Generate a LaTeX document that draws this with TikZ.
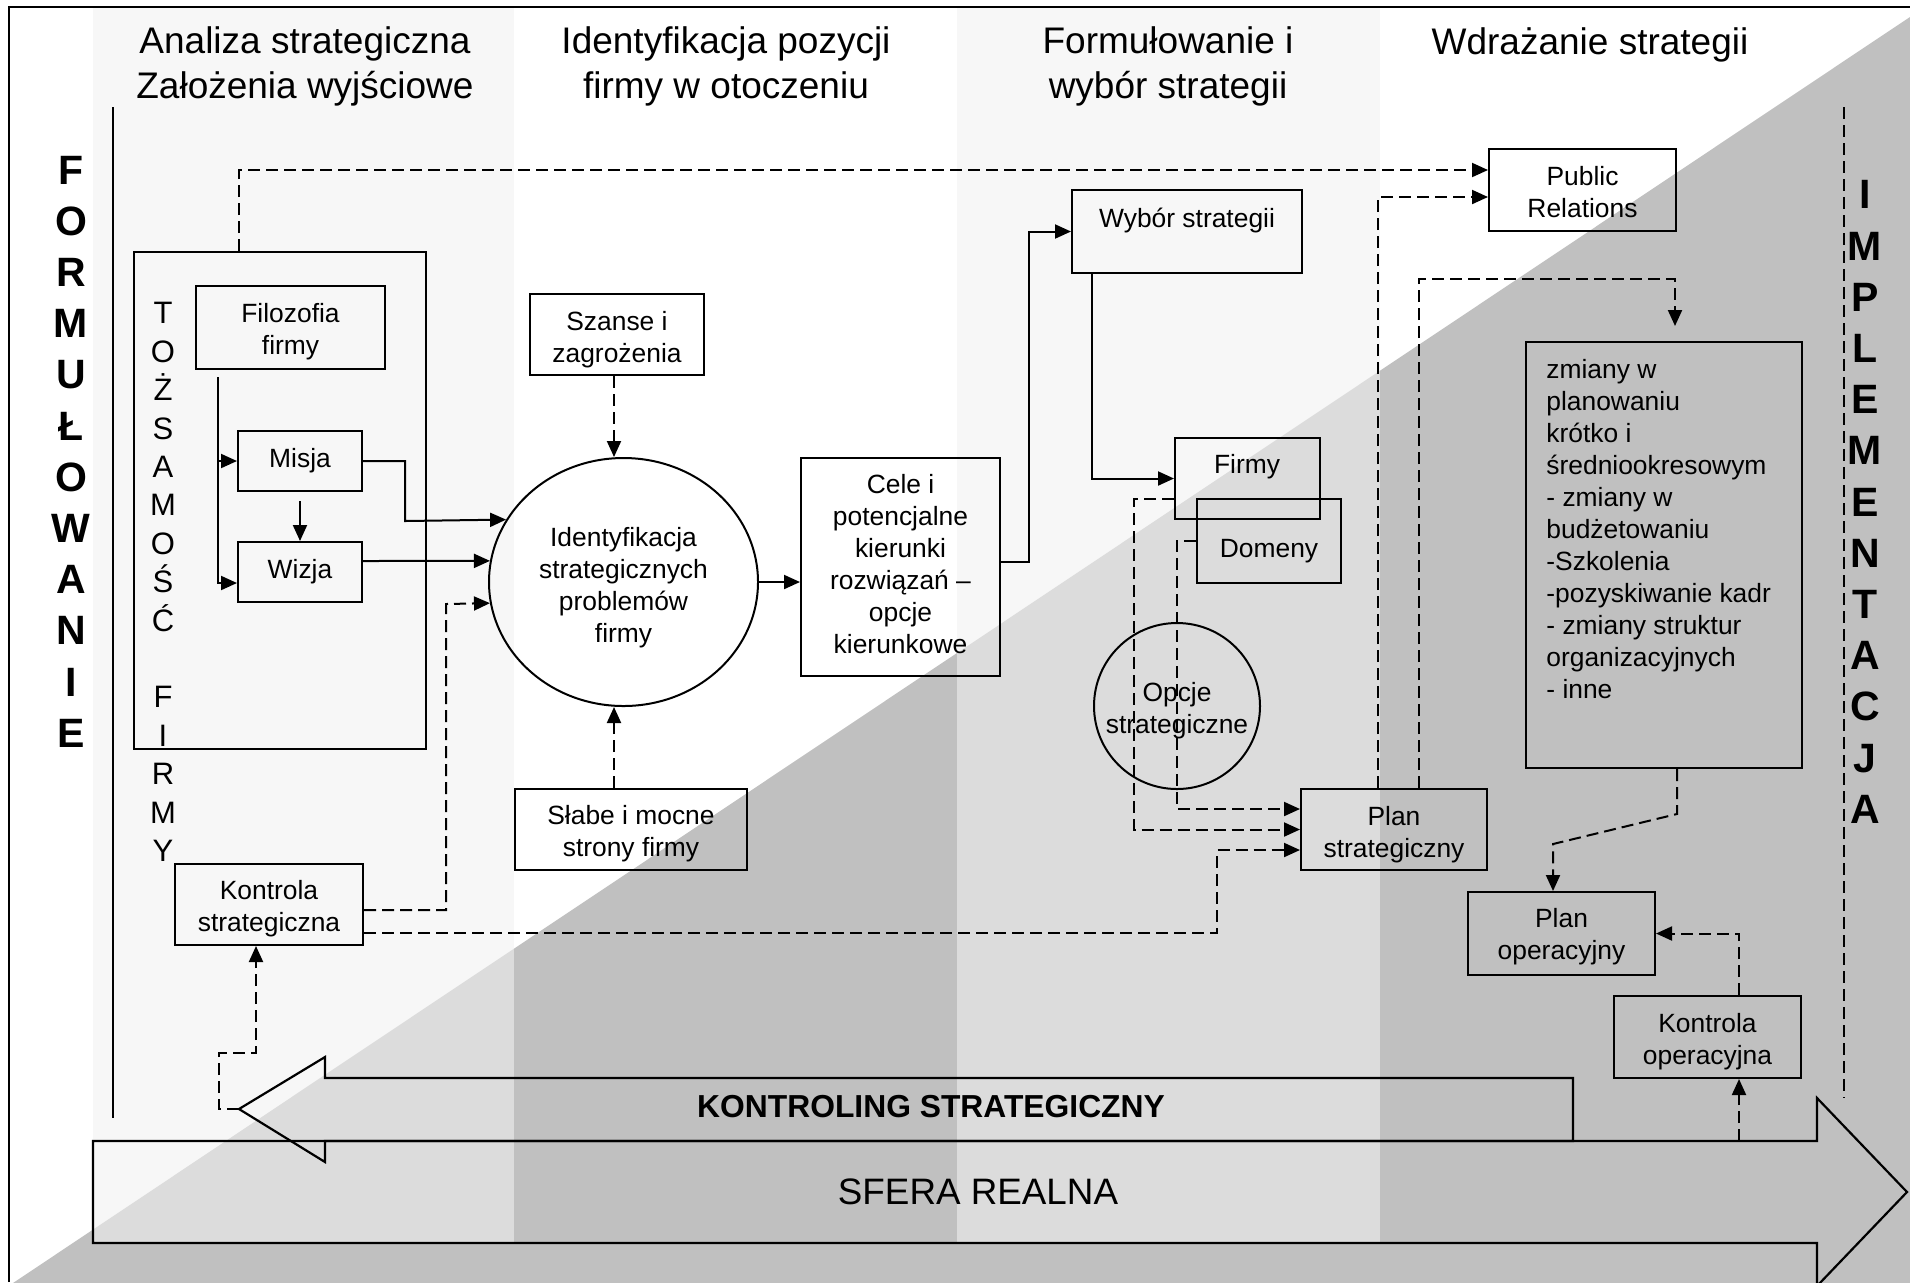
\documentclass[tikz,border=0pt]{standalone}
\usepackage{fontspec}
\setmainfont{Liberation Sans}
\usetikzlibrary{arrows.meta,shapes.geometric}

\definecolor{bandlight}{HTML}{F7F7F7}
\definecolor{bandmid}{HTML}{DCDCDC}
\definecolor{banddark}{HTML}{C0C0C0}

\newcommand\txtbox{\fontsize{13.2pt}{16pt}\selectfont}
\newcommand\txthead{\fontsize{18.5pt}{22.5pt}\selectfont}
\newcommand\txtside{\fontsize{20.5pt}{25.6pt}\selectfont\bfseries}
\newcommand\txtident{\fontsize{15.5pt}{19.2pt}\selectfont}

% rectangular box given by its corners (in px) and its caption:
% [vertical text offset], name, x1, y1, x2, y2, text
\newcommand\rectnode[7][0]{%
  \node[box, minimum width={(#5-#3)*0.5pt}, minimum height={(#6-#4)*0.5pt}]
    (#2) at ({(#3+#5)/2},{(#4+#6)/2}) {};
  \node[txt] (#2-t) at ({(#3+#5)/2},{(#4+#6)/2+#1}) {#7};}

\tikzset{
  box/.style={draw, line width=1pt, inner sep=0pt},
  txt/.style={inner sep=0pt, align=center, font=\txtbox},
  conn/.style={line width=1pt},
  arr/.style={conn, -{Triangle[length=8pt,width=7pt]}},
  dsh/.style={conn, dash pattern=on 6pt off 3pt},
  dsharr/.style={dsh, -{Triangle[length=8pt,width=7pt]}},
  bigarrow/.style={line width=1.1pt, line join=miter},
}

\begin{document}
\begin{tikzpicture}[x=0.5pt,y=-0.5pt]
\useasboundingbox (0,0) rectangle (1910,1282);

% ---------- background: white sheet, grey lower-right half, column bands
\fill[white] (0,0) rectangle (1910,1282);
\fill[banddark] (13,1283) -- (1910,17) -- (1910,1283) -- cycle;
\fill[bandlight] (93,7) rectangle (514,1243);
\fill[bandlight] (957,7) rectangle (1380,1243);
\begin{scope}
  \clip (13,1283) -- (1910,17) -- (1910,1283) -- cycle;
  \fill[bandmid] (93,7) rectangle (514,1243);
  \fill[bandmid] (957,7) rectangle (1380,1243);
\end{scope}

% frame
\draw[line width=1.2pt] (9,1282) -- (9,7) -- (1910,7);

% phase separators
\draw[conn] (113,107) -- (113,1118);
\draw[dsh] (1843.5,107) -- (1843.5,1098);

% ---------- column headings
\node[txt, font=\txthead] (hA) at (305,66.5) {Analiza strategiczna\\Założenia wyjściowe};
\node[txt, font=\txthead] (hB) at (726,66.5) {Identyfikacja pozycji\\firmy w otoczeniu};
\node[txt, font=\txthead] (hC) at (1168,66.5) {Formułowanie i\\wybór strategii};
\node[txt, font=\txthead] (hD) at (1590,44.5) {Wdrażanie strategii};

% ---------- side captions
\node[txt, font=\txtside] (formul) at (71,451.5)
  {F\\O\\R\\M\\U\\Ł\\O\\W\\A\\N\\I\\E};
\node[txt, font=\txtside] (implem) at (1865,502)
  {I\\M\\P\\L\\E\\M\\E\\N\\T\\A\\C\\J\\A};

% ---------- bottom band arrows
\draw[bigarrow] (93,1141) -- (1817,1141) -- (1817,1098) -- (1907,1192)
  -- (1817,1286) -- (1817,1243) -- (93,1243) -- cycle;
\draw[bigarrow] (1573,1078) -- (325,1078) -- (325,1057) -- (239,1109)
  -- (325,1162) -- (325,1141) -- (1573,1141) -- cycle;
\coordinate (ktip) at (239,1109);
\coordinate (kopfoot) at (1739,1141);
\node[txt, font=\fontsize{15.9pt}{19pt}\selectfont\bfseries] (ktxt) at (931,1107)
  {KONTROLING STRATEGICZNY};
\node[txt, font=\fontsize{18.4pt}{22pt}\selectfont] (stxt) at (978,1192)
  {SFERA REALNA};

% ---------- identity of the firm
\rectnode{ident}{134}{252}{426}{749}{}
\node[txt, font=\txtident] (identT) at (163,582)
  {T\\O\\Ż\\S\\A\\M\\O\\Ś\\Ć\\~\\F\\I\\R\\M\\Y};
\rectnode[4]{filo}{196}{286}{385}{369}{Filozofia\\firmy}
\rectnode{misja}{238}{431}{362}{491}{Misja}
\rectnode{wizja}{238}{542}{362}{602}{Wizja}
\rectnode[4]{kstrat}{175}{864}{363}{945}{Kontrola\\strategiczna}

% ---------- position of the firm
\node[draw, ellipse, line width=1pt, inner sep=0pt, minimum width=134.5pt,
  minimum height=124pt] (idc) at (623.5,582) {};
\node[txt] (idc-t) at (623.5,587.5)
  {Identyfikacja\\strategicznych\\problemów\\firmy};
\rectnode[5]{szanse}{530}{294}{704}{375}{Szanse i\\zagrożenia}
\rectnode[4]{slabe}{515}{789}{747}{870}{Słabe i mocne\\strony firmy}
\rectnode[-2.5]{cele}{801}{458}{1000}{676}{Cele i\\potencjalne\\kierunki\\rozwiązań –\\opcje\\kierunkowe}

% ---------- formulation and choice
\rectnode{wybor}{1072}{190}{1302}{273}{}
\node[txt] (wyborT) at (1187,220.5) {Wybór strategii};
\rectnode{firmy}{1175}{438}{1320}{519}{}
\node[txt] (firmyT) at (1247,466.5) {Firmy};
\rectnode{domeny}{1197}{499}{1341}{583}{}
\node[txt] (domenyT) at (1269,551.5) {Domeny};
\node[draw, circle, line width=1pt, inner sep=0pt, minimum size=83pt]
  (opcje) at (1177,706) {};
\node[txt] (opcje-t) at (1177,711) {Opcje\\strategiczne};
\rectnode[5]{pstrat}{1301}{789}{1487}{870}{Plan\\strategiczny}

% ---------- implementation
\rectnode[2]{pr}{1489}{149}{1676}{231}{Public\\Relations}
\rectnode{zmiany}{1526}{342}{1802}{768}{}
\node[txt, align=left, anchor=west] (zmianyT) at (1546,529.5)
  {zmiany w\\planowaniu\\krótko i\\średniookresowym\\- zmiany w\\budżetowaniu\\-Szkolenia\\-pozyskiwanie kadr\\- zmiany struktur\\organizacyjnych\\- inne};
\rectnode[3.5]{pop}{1468}{892}{1655}{975}{Plan\\operacyjny}
\rectnode[5]{kop}{1614}{996}{1801}{1078}{Kontrola\\operacyjna}

% ---------- solid connectors
\coordinate (fsplit) at (218,377);
\draw[arr] (fsplit) |- ([yshift=-5.5pt]wizja.west);
\draw[arr] (fsplit |- misja.west) -- (misja.west);
\draw[arr] ([yshift=-4.5pt]misja.south) -- (wizja.north);
\draw[arr] (misja.east) -| (405,521) -- (idc.152.5);
\draw[arr] ([yshift=5.5pt]wizja.east) -- (idc.171);
\draw[arr] (idc.east) -- (idc.east -| cele.west);
\draw[arr] ([yshift=2.5pt]cele.east) -| (1029,231.5) -- (wybor.west);
\draw[arr] ([xshift=10.5pt]wybor.south west) |- (firmy.west);

% ---------- dashed connectors
\coordinate (szdown) at ([xshift=-1.5pt]szanse.south);
\draw[dsharr] (szdown) -- (szdown |- idc.north);
\coordinate (slup) at ([xshift=-8.5pt]slabe.north);
\draw[dsharr] (slup) -- (slup |- idc.south);
\draw[dsharr] ([yshift=-2.75pt]kstrat.east) -| (446,604) -- (idc.189.4);
\draw[dsharr] ([yshift=-14pt]kstrat.east) -| (1217,850) -- ([yshift=-10.25pt]pstrat.west);
\draw[dsharr] ([yshift=-10.25pt]firmy.west) -| (1134,829.5) -- (pstrat.west);
\draw[dsharr] (domeny.west) -| (1177,809) -- ([yshift=10.25pt]pstrat.west);
\draw[dsharr] ([xshift=-20.5pt]ident.north) |- ([yshift=10pt]pr.west);
\draw[dsharr] ([xshift=39pt]pstrat.north west) |- ([yshift=-3.5pt]pr.west);
\draw[dsharr] ([xshift=59.5pt]pstrat.north west) |- (1675,279)
  -- ([xshift=5.5pt,yshift=7.5pt]zmiany.north);
\draw[dsharr] ([xshift=6.5pt]zmiany.south) -- (1677,814) -- (1553,844)
  -- ([xshift=-4.25pt]pop.north);
\draw[dsharr] ([xshift=15.75pt]kop.north) |- (pop.east);
\draw[dsharr] (kopfoot) -- ([xshift=15.75pt]kop.south);
\draw[dsharr] (ktip) -- (219,1109) |- (256,1053) -- ([xshift=-6.5pt]kstrat.south);

\end{tikzpicture}
\end{document}
